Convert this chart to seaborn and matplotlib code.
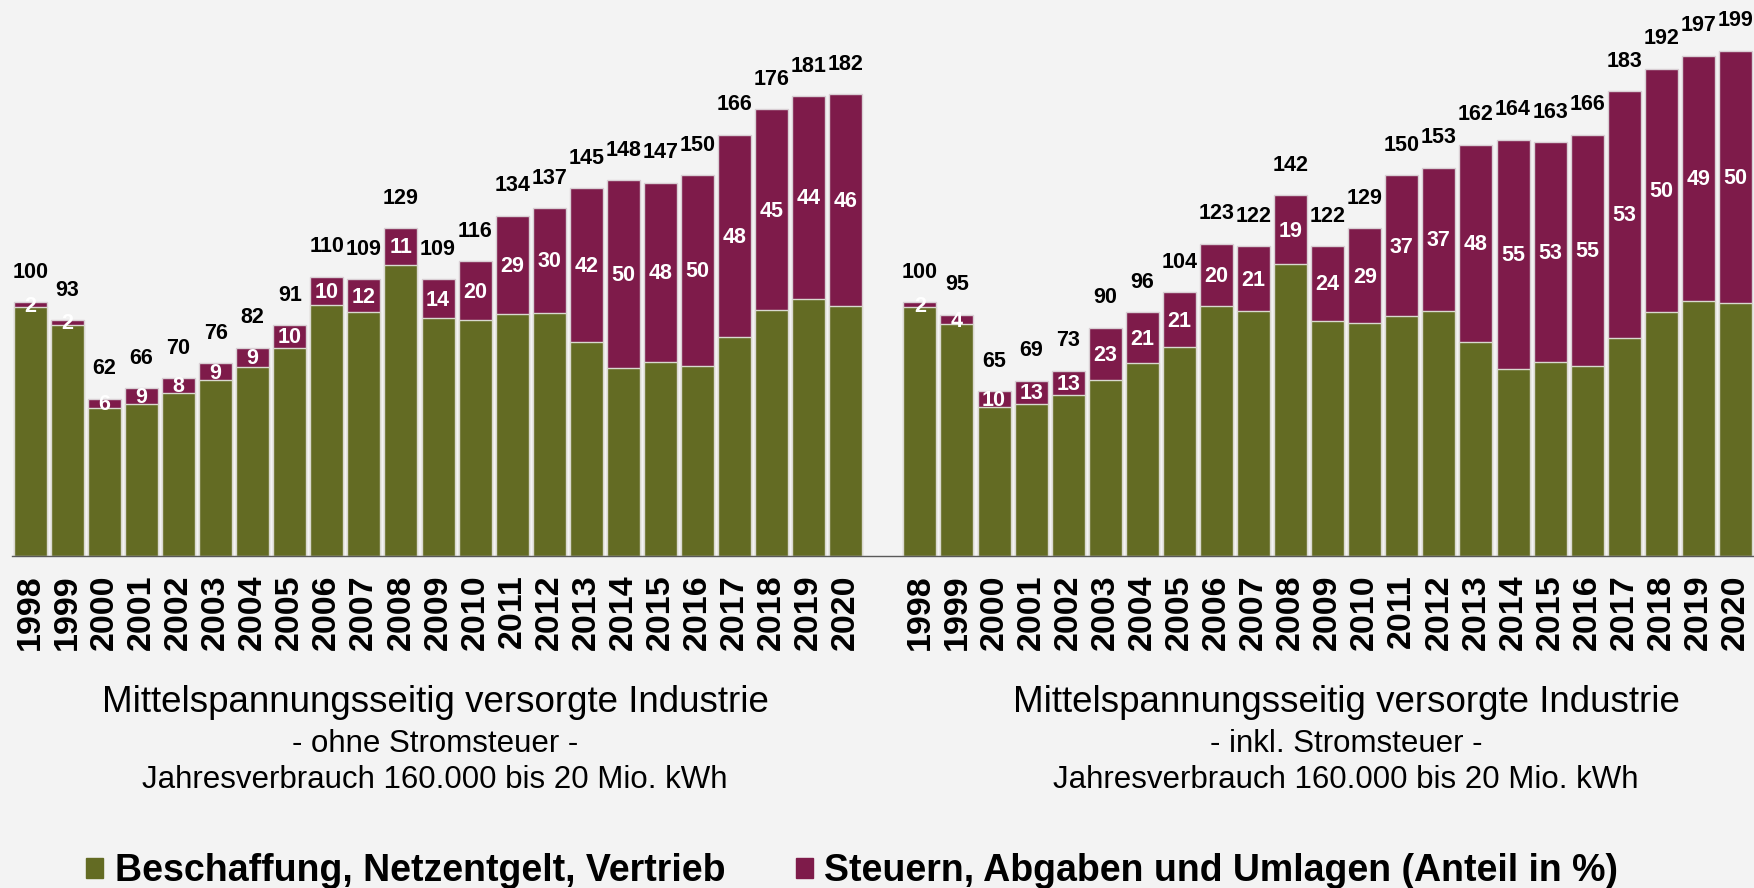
import numpy as np
import pandas as pd
import matplotlib
matplotlib.use("Agg")
import matplotlib.pyplot as plt
import matplotlib.patches as mpatches
import seaborn as sns

# Daten (Index 1998 = 100, Anteil Steuern/Abgaben/Umlagen in %)
jahre = [str(j) for j in range(1998, 2021)]
gesamt_ohne = [100, 93, 62, 66, 70, 76, 82, 91, 110, 109, 129, 109, 116,
               134, 137, 145, 148, 147, 150, 166, 176, 181, 182]
anteil_ohne = [2, 2, 6, 9, 8, 9, 9, 10, 10, 12, 11, 14, 20,
               29, 30, 42, 50, 48, 50, 48, 45, 44, 46]
gesamt_inkl = [100, 95, 65, 69, 73, 90, 96, 104, 123, 122, 142, 122, 129,
               150, 153, 162, 164, 163, 166, 183, 192, 197, 199]
anteil_inkl = [2, 4, 10, 13, 13, 23, 21, 21, 20, 21, 19, 24, 29,
               37, 37, 48, 55, 53, 55, 53, 50, 49, 50]

titel = "Mittelspannungsseitig versorgte Industrie"
untertitel = ["- ohne Stromsteuer -", "- inkl. Stromsteuer -"]
verbrauch = "Jahresverbrauch 160.000 bis 20 Mio. kWh"
legende = ["Beschaffung, Netzentgelt, Vertrieb", "Steuern, Abgaben und Umlagen (Anteil in %)"]

gruen = "#636b23"
lila = "#7e1b4a"
hg = "#f3f3f3"

df = pd.DataFrame({
    "key": ["o" + j for j in jahre] + ["i" + j for j in jahre],
    "jahr": jahre + jahre,
    "gesamt": gesamt_ohne + gesamt_inkl,
    "anteil": anteil_ohne + anteil_inkl,
})
df["basis"] = df["gesamt"] * (1 - df["anteil"] / 100)
order = ["o" + j for j in jahre] + ["luecke"] + ["i" + j for j in jahre]

sns.set_style("white")
plt.rcParams["font.family"] = ["Liberation Sans", "DejaVu Sans"]
plt.rcParams["text.color"] = "black"
plt.rcParams["xtick.labelcolor"] = "black"

fig = plt.figure(figsize=(17.54, 8.88), dpi=100, facecolor=hg)
ax = fig.add_axes([11.7 / 1754, 1 - 556 / 888, 1 - 11.7 / 1754, 556 / 888])
ax.set_facecolor(hg)

sns.barplot(data=df, x="key", y="gesamt", order=order, color=lila, saturation=1,
            width=0.89, edgecolor="#d9cfd4", linewidth=1, errorbar=None, ax=ax)
sns.barplot(data=df, x="key", y="basis", order=order, color=gruen, saturation=1,
            width=0.89, edgecolor="#d9d9cf", linewidth=1, errorbar=None, ax=ax)

for _, r in df.iterrows():
    i = order.index(r["key"])
    ax.annotate(str(r["gesamt"]), (i, r["gesamt"]), xytext=(0, 21.5), textcoords="offset points",
                ha="center", va="center", fontsize=15.5, fontweight="bold", color="black")
    ax.annotate(str(r["anteil"]), (i, (r["basis"] + r["gesamt"]) / 2), xytext=(0, -1),
                textcoords="offset points", ha="center", va="center",
                fontsize=15.5, fontweight="bold", color="white")

ax.set_xlim(-0.5, len(order) - 0.5)
ax.set_ylim(0, 219)
ax.set_xticks(range(len(order)))
ax.set_xticklabels(jahre + [""] + jahre, rotation=90, fontsize=24.5, fontweight="bold",
                   color="black")
ax.set_xticks(np.arange(-0.5, len(order), 1), minor=True)
ax.tick_params(axis="x", which="major", length=0, pad=13)
ax.tick_params(axis="x", which="minor", length=7.5, width=1, color="#595959")
ax.set_yticks([])
ax.set_xlabel("")
ax.set_ylabel("")
for s in ["top", "left", "right"]:
    ax.spines[s].set_visible(False)
ax.spines["bottom"].set_color("#595959")
ax.spines["bottom"].set_linewidth(1)

for k, xc in enumerate([435 / 1754, 1346 / 1754]):
    fig.text(xc, 1 - 703 / 888, titel, ha="center", va="center", fontsize=26.5, color="black")
    fig.text(xc, 1 - 744 / 888, untertitel[k], ha="center", va="center", fontsize=22.5, color="black")
    fig.text(xc, 1 - 780 / 888, verbrauch, ha="center", va="center", fontsize=22.5, color="black")

handles = [mpatches.Patch(color=gruen, label=legende[0]),
           mpatches.Patch(color=lila, label=legende[1])]
fig.legend(handles=handles, loc="center", bbox_to_anchor=(0.486, 1 - 871 / 888), ncol=2,
           frameon=False, prop={"weight": "bold", "size": 27}, labelcolor="black",
           handlelength=0.45, handleheight=0.45, handletextpad=0.3, columnspacing=1.9)

fig.savefig("out.png", dpi=100, facecolor=hg)
